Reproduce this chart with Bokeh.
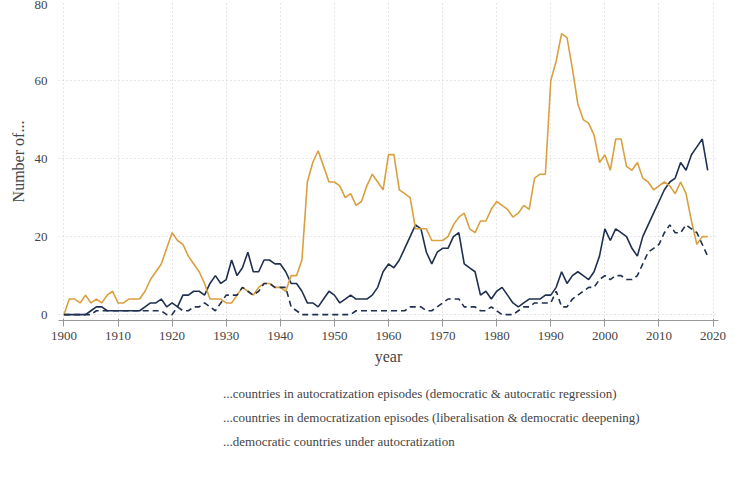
from bokeh.plotting import figure
from bokeh.models import Legend, LegendItem
from bokeh.layouts import column
from bokeh.embed import file_html
from bokeh.resources import INLINE

years = list(range(1900, 2020))
autoc = [0,0,0,0,0,1,2,2,1,1, 1,1,1,1,1,2,3,3,4,2,
         3,2,5,5,6,6,5,8,10,8, 9,14,10,12,16,11,11,14,14,13,
         13,11,8,8,6,3,3,2,4,6, 5,3,4,5,4,4,4,5,7,11,
         13,12,14,17,20,23,22,16,13,16, 17,17,20,21,13,12,11,5,6,4,
         6,7,5,3,2,3,4,4,4,5, 5,7,11,8,10,11,10,9,11,15,
         22,19,22,21,20,17,15,20,23,26, 29,32,34,35,39,37,41,43,45,37]
democ = [0,4,4,3,5,3,4,3,5,6, 3,3,4,4,4,6,9,11,13,17,
         21,19,18,15,13,11,8,4,4,4, 3,3,5,7,6,5,7,8,8,7,
         7,6,10,10,14,34,39,42,38,34, 34,33,30,31,28,29,33,36,34,32,
         41,41,32,31,30,22,22,22,19,19, 19,20,23,25,26,22,21,24,24,27,
         29,28,27,25,26,28,27,35,36,36, 60,65,72,71,63,54,50,49,46,39,
         41,37,45,45,38,37,39,35,34,32, 33,34,33,31,34,31,24,18,20,20]
demaut = [0,0,0,0,0,0,1,1,1,1, 1,1,1,1,1,1,1,1,1,0,
          0,2,1,1,2,2,3,2,1,3, 5,5,5,7,6,5,6,8,8,7,
          7,7,2,1,0,0,0,0,0,0, 0,0,0,0,1,1,1,1,1,1,
          1,1,1,1,2,2,2,1,1,2, 3,4,4,4,2,2,2,1,1,2,
          1,0,0,0,1,2,2,3,3,3, 3,6,2,2,4,5,6,7,7,9,
          10,9,10,10,9,9,10,13,16,17, 18,21,23,21,21,23,22,21,18,15]
labels = ["...countries in autocratization episodes (democratic & autocratic regression)",
          "...countries in democratization episodes (liberalisation & democratic deepening)",
          "...democratic countries under autocratization"]

NAVY = "#1f3050"
ORANGE = "#d9a03f"
FONT = "Liberation Serif"

p = figure(frame_width=660, frame_height=318, output_backend="svg", toolbar_location=None,
           x_range=(1899, 2021), y_range=(-1.5, 80))
p.min_border_left = 58
p.min_border_right = 8
p.min_border_top = 2
p.min_border_bottom = 10

p.line(years, autoc, color=NAVY, line_width=1.6)
p.line(years, democ, color=ORANGE, line_width=1.6)
p.line(years, demaut, color=NAVY, line_width=1.6, line_dash="6 4")

p.xaxis.ticker = list(range(1900, 2021, 10))
p.yaxis.ticker = [0, 20, 40, 60, 80]
p.xaxis.axis_label = "year"
p.yaxis.axis_label = "Number of..."
for ax in (p.xaxis, p.yaxis):
    ax.axis_label_text_font = FONT
    ax.major_label_text_font = FONT
    ax.axis_label_text_font_style = "normal"
    ax.axis_label_text_font_size = "16px"
    ax.major_label_text_font_size = "13px"
    ax.axis_line_color = "#999999"
    ax.major_tick_line_color = "#999999"
    ax.minor_tick_line_color = None
p.yaxis.axis_line_color = None
p.yaxis.major_tick_line_color = None
p.grid.grid_line_color = "#cccccc"
p.grid.grid_line_dash = "1 3"
p.outline_line_color = None

q = figure(width=733, height=100, output_backend="svg", toolbar_location=None,
           x_range=(0, 1), y_range=(0, 1))
q.axis.visible = False
q.grid.visible = False
q.outline_line_color = None
r1 = q.line([], [], color=NAVY, line_width=1.6)
r2 = q.line([], [], color=ORANGE, line_width=1.6)
r3 = q.line([], [], color=NAVY, line_width=1.6, line_dash="6 4")
legend = Legend(items=[LegendItem(label=labels[0], renderers=[r1]),
                       LegendItem(label=labels[1], renderers=[r2]),
                       LegendItem(label=labels[2], renderers=[r3])],
                location=(120, 10), border_line_color=None, background_fill_alpha=0,
                label_text_font=FONT, label_text_font_size="13px", spacing=4,
                glyph_width=40, padding=6)
q.add_layout(legend)

open("out.html", "w").write(file_html(column(p, q), INLINE))
